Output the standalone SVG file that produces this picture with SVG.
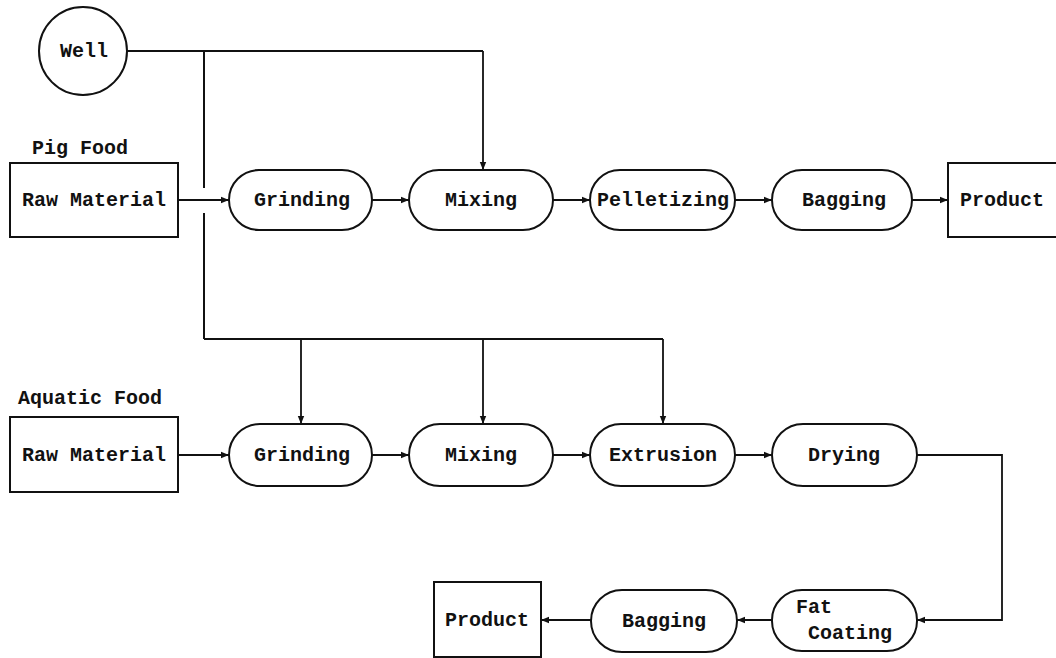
<svg xmlns="http://www.w3.org/2000/svg" width="1056" height="658" viewBox="0 0 1056 658">
  <defs>
    <marker id="arrow" viewBox="0 0 10 10" refX="10" refY="5" markerWidth="11" markerHeight="8" markerUnits="userSpaceOnUse" orient="auto">
      <path d="M0,1 L10,5 L0,9 Z" fill="#111"/>
    </marker>
    <style>
      .shape { fill: #fff; stroke: #111; stroke-width: 2; }
      .label { font-family: "Liberation Mono", "Courier New", monospace; font-size: 20px; fill: #111; font-weight: bold; }
      .mid { text-anchor: middle; dominant-baseline: central; }
      .line { fill: none; stroke: #111; stroke-width: 2; }
      .arr { fill: none; stroke: #111; stroke-width: 1.8; marker-end: url(#arrow); }
    </style>
  </defs>
  <rect width="1056" height="658" fill="#fff"/>

  <!-- connectors -->
  <g id="connectors">
    <!-- water supply from the well -->
    <polyline class="line" points="127,51 483,51"/>
    <line class="arr" x1="483" y1="51" x2="483" y2="170"/>
    <line class="line" x1="204" y1="51" x2="204" y2="188"/>
    <line class="line" x1="204" y1="213" x2="204" y2="339"/>
    <polyline class="line" points="204,339 663,339"/>
    <line class="arr" x1="301" y1="339" x2="301" y2="424"/>
    <line class="arr" x1="483" y1="339" x2="483" y2="424"/>
    <line class="arr" x1="663" y1="339" x2="663" y2="424"/>

    <!-- pig food line -->
    <line class="arr" x1="178" y1="200" x2="229" y2="200"/>
    <line class="arr" x1="372" y1="200" x2="409" y2="200"/>
    <line class="arr" x1="553" y1="200" x2="590" y2="200"/>
    <line class="arr" x1="735" y1="200" x2="772" y2="200"/>
    <line class="arr" x1="912" y1="200" x2="948" y2="200"/>

    <!-- aquatic food line -->
    <line class="arr" x1="178" y1="455" x2="229" y2="455"/>
    <line class="arr" x1="372" y1="455" x2="409" y2="455"/>
    <line class="arr" x1="553" y1="455" x2="590" y2="455"/>
    <line class="arr" x1="735" y1="455" x2="772" y2="455"/>
    <polyline class="arr" points="917,455 1002,455 1002,620 917,620"/>
    <line class="arr" x1="772" y1="620" x2="737" y2="620"/>
    <line class="arr" x1="591" y1="620" x2="541" y2="620"/>
  </g>

  <!-- source -->
  <g id="well">
    <circle class="shape" cx="83" cy="51" r="44"/>
    <text class="label mid" x="84" y="51">Well</text>
  </g>

  <!-- pig food process -->
  <text class="label" x="32" y="154">Pig Food</text>
  <g id="pig-raw">
    <rect class="shape" x="10" y="163" width="168" height="74"/>
    <text class="label mid" x="94" y="200">Raw Material</text>
  </g>
  <g id="pig-grinding">
    <rect class="shape" x="229" y="170" width="143" height="60" rx="30"/>
    <text class="label mid" x="302" y="200">Grinding</text>
  </g>
  <g id="pig-mixing">
    <rect class="shape" x="409" y="170" width="144" height="60" rx="30"/>
    <text class="label mid" x="481" y="200">Mixing</text>
  </g>
  <g id="pig-pelletizing">
    <rect class="shape" x="590" y="170" width="145" height="60" rx="30"/>
    <text class="label mid" x="663" y="200">Pelletizing</text>
  </g>
  <g id="pig-bagging">
    <rect class="shape" x="772" y="170" width="140" height="60" rx="30"/>
    <text class="label mid" x="844" y="200">Bagging</text>
  </g>
  <g id="pig-product">
    <rect class="shape" x="948" y="163" width="120" height="74"/>
    <text class="label mid" x="1002" y="200">Product</text>
  </g>

  <!-- aquatic food process -->
  <text class="label" x="18" y="404">Aquatic Food</text>
  <g id="aq-raw">
    <rect class="shape" x="10" y="417" width="168" height="75"/>
    <text class="label mid" x="94" y="455">Raw Material</text>
  </g>
  <g id="aq-grinding">
    <rect class="shape" x="229" y="424" width="143" height="62" rx="31"/>
    <text class="label mid" x="302" y="455">Grinding</text>
  </g>
  <g id="aq-mixing">
    <rect class="shape" x="409" y="424" width="144" height="62" rx="31"/>
    <text class="label mid" x="481" y="455">Mixing</text>
  </g>
  <g id="aq-extrusion">
    <rect class="shape" x="590" y="424" width="145" height="62" rx="31"/>
    <text class="label mid" x="663" y="455">Extrusion</text>
  </g>
  <g id="aq-drying">
    <rect class="shape" x="772" y="424" width="145" height="62" rx="31"/>
    <text class="label mid" x="844" y="455">Drying</text>
  </g>
  <g id="aq-fat-coating">
    <rect class="shape" x="772" y="590" width="145" height="61" rx="30"/>
    <text class="label" x="796" y="613">Fat</text>
    <text class="label" x="808" y="639">Coating</text>
  </g>
  <g id="aq-bagging">
    <rect class="shape" x="591" y="590" width="146" height="62" rx="31"/>
    <text class="label mid" x="664" y="621">Bagging</text>
  </g>
  <g id="aq-product">
    <rect class="shape" x="434" y="582" width="107" height="75"/>
    <text class="label mid" x="487" y="620">Product</text>
  </g>
</svg>
